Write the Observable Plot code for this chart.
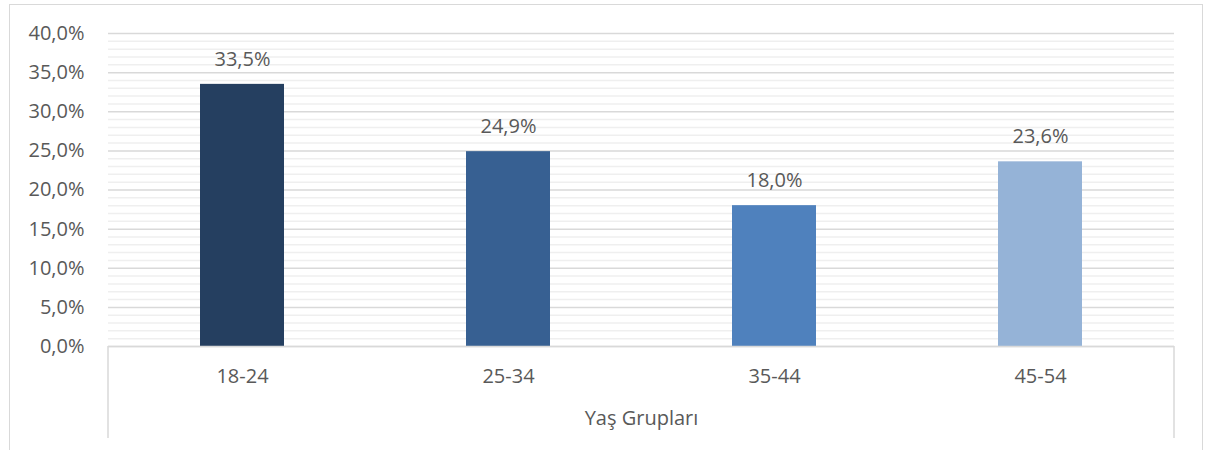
<!DOCTYPE html>
<html>
<head>
<meta charset="utf-8">
<script src="https://cdn.jsdelivr.net/npm/d3@7"></script>
<script src="https://cdn.jsdelivr.net/npm/@observablehq/plot@0.6"></script>
<style>
  html, body { margin: 0; padding: 0; background: #fff; }
  #wrap { position: relative; width: 1220px; height: 450px; overflow: hidden; }
  #border { position: absolute; left: 9px; top: 4px; width: 1194px; height: 470px;
            border: 1px solid #d9d9d9; box-sizing: border-box; pointer-events: none; }
</style>
</head>
<body>
<div id="wrap"><div id="border"></div></div>
<script>
// Age groups and their shares (%)
const ageGroups = ["18-24", "25-34", "35-44", "45-54"];
const shares = [33.5, 24.9, 18.0, 23.6];
const barColors = ["#253F60", "#376092", "#4F81BD", "#95B3D7"];
const majorTicks = [0, 5, 10, 15, 20, 25, 30, 35, 40];
const minorTicks = d3.range(0, 41).filter(v => v % 5 !== 0);
const axisTitle = "Yaş Grupları";

const rows = ageGroups.map((g, i) => ({group: g, share: shares[i]}));
const pct = v => v.toFixed(1).replace(".", ",") + "%";

const FS = 20;
const ink = "#595959";
const W = 1220, H = 450;
const chart = Plot.plot({
  width: W,
  height: H,
  marginLeft: 108,
  marginRight: 46,
  marginTop: 33,
  marginBottom: 104,
  style: {fontFamily: "'Open Sans', sans-serif", fontSize: FS + "px", color: ink, background: "transparent", overflow: "visible"},
  x: {domain: ageGroups, paddingInner: 0.685, paddingOuter: 0.3425, label: null},
  y: {domain: [0, 40], label: null},
  color: {domain: ageGroups, range: barColors},
  marks: [
    Plot.ruleY(minorTicks, {stroke: "#efefef", strokeWidth: 1.5}),
    Plot.ruleY(majorTicks, {stroke: "#d9d9d9", strokeWidth: 1.5}),
    Plot.barY(rows, {x: "group", y: "share", fill: "group"}),
    Plot.ruleY([0], {stroke: "#d9d9d9", strokeWidth: 1.5}),
    Plot.text(rows, {x: "group", y: "share", text: d => pct(d.share), dy: -25, fill: ink, fontSize: FS}),
    Plot.axisY({ticks: majorTicks, tickFormat: pct, tickSize: 0, tickPadding: 24, fill: ink, fontSize: FS}),
    Plot.axisX({tickSize: 0, tickPadding: 22, fill: ink, fontSize: FS}),
    Plot.text([axisTitle], {frameAnchor: "bottom", dy: 78, fill: ink, fontSize: FS})
  ]
});

// Category-axis edge lines hanging below the baseline
const xs = chart.scale("x").range;
const y0 = chart.scale("y").apply(0);
const svg = d3.select(chart);
[xs[0], xs[1]].forEach(x => {
  svg.append("line")
    .attr("x1", x).attr("x2", x)
    .attr("y1", y0).attr("y2", y0 + 92)
    .attr("stroke", "#d9d9d9").attr("stroke-width", 1.5);
});

document.getElementById("wrap").prepend(chart);
</script>
</body>
</html>
